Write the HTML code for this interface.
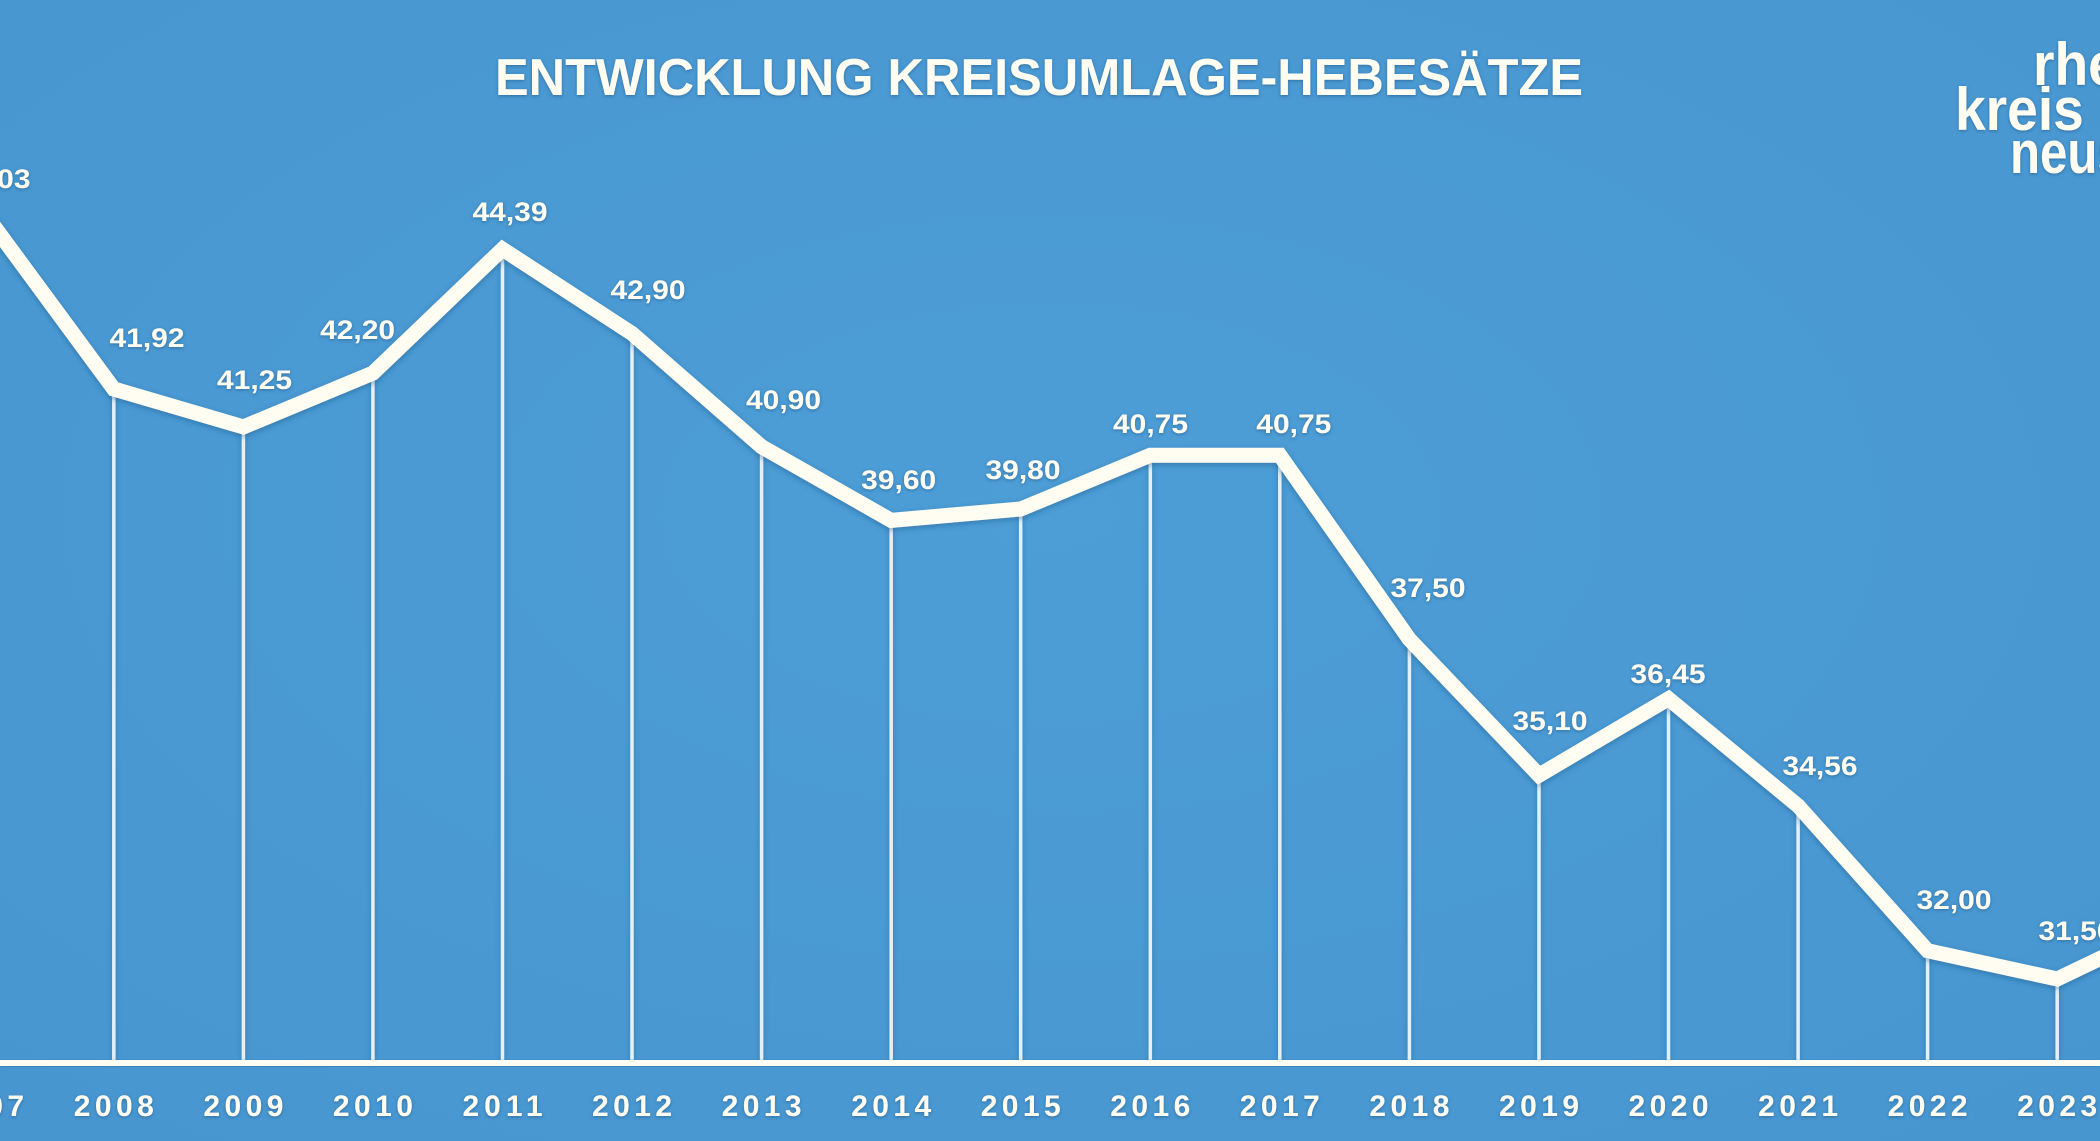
<!DOCTYPE html>
<html>
<head>
<meta charset="utf-8">
<style>
  html,body{margin:0;padding:0;background:#4b9bd4;}
  svg{display:block;}
  text{font-family:"Liberation Sans",sans-serif;font-weight:bold;fill:#fffdf2;}
</style>
</head>
<body>
<svg width="2100" height="1141" viewBox="0 0 2100 1141" xmlns="http://www.w3.org/2000/svg">
  <defs>
    <filter id="sh" x="-10%" y="-10%" width="120%" height="120%">
      <feDropShadow dx="0" dy="2" stdDeviation="3" flood-color="#17507f" flood-opacity="0.45"/>
    </filter>
    <filter id="tsh" x="-10%" y="-30%" width="120%" height="160%">
      <feDropShadow dx="0" dy="1" stdDeviation="1.5" flood-color="#1a4f7c" flood-opacity="0.6"/>
    </filter>
    <radialGradient id="bg" cx="50%" cy="45%" r="75%">
      <stop offset="0%" stop-color="#4d9dd6"/>
      <stop offset="100%" stop-color="#4896d0"/>
    </radialGradient>
  </defs>
  <rect x="0" y="0" width="2100" height="1141" fill="url(#bg)"/>

  <!-- drop lines -->
  <g stroke="#f4f8fb" stroke-width="3.5" stroke-opacity="0.9" filter="url(#sh)">
    <line x1="113.8" y1="392" x2="113.8" y2="1060"/>
    <line x1="243.4" y1="430" x2="243.4" y2="1060"/>
    <line x1="372.9" y1="376" x2="372.9" y2="1060"/>
    <line x1="502.5" y1="252" x2="502.5" y2="1060"/>
    <line x1="632.0" y1="336" x2="632.0" y2="1060"/>
    <line x1="761.6" y1="450" x2="761.6" y2="1060"/>
    <line x1="891.2" y1="523" x2="891.2" y2="1060"/>
    <line x1="1020.7" y1="512" x2="1020.7" y2="1060"/>
    <line x1="1150.3" y1="458" x2="1150.3" y2="1060"/>
    <line x1="1279.8" y1="458" x2="1279.8" y2="1060"/>
    <line x1="1409.4" y1="642" x2="1409.4" y2="1060"/>
    <line x1="1539.0" y1="778" x2="1539.0" y2="1060"/>
    <line x1="1668.5" y1="702" x2="1668.5" y2="1060"/>
    <line x1="1798.1" y1="809" x2="1798.1" y2="1060"/>
    <line x1="1927.6" y1="954" x2="1927.6" y2="1060"/>
    <line x1="2057.2" y1="982" x2="2057.2" y2="1060"/>
  </g>

  <!-- axis -->
  <rect x="0" y="1060" width="2100" height="6" fill="#fffdf2" filter="url(#sh)"/>

  <!-- main line -->
  <polyline filter="url(#sh)" fill="none" stroke="#fffdf2" stroke-width="15" stroke-linejoin="miter" stroke-miterlimit="6"
    points="-15.8,212.9 113.8,389.0 243.4,426.9 372.9,373.1 502.5,249.1 632.0,333.5 761.6,446.7 891.2,520.4 1020.7,509.0 1150.3,455.2 1279.8,455.2 1409.4,639.3 1539.0,775.2 1668.5,698.7 1798.1,805.8 1927.6,950.7 2057.2,979.0 2186.8,916.8"/>

  <!-- title -->
  <text x="1039" y="95" font-size="52" text-anchor="middle" textLength="1088" lengthAdjust="spacingAndGlyphs" filter="url(#tsh)">ENTWICKLUNG KREISUMLAGE-HEBESÄTZE</text>

  <!-- logo -->
  <g filter="url(#tsh)">
    <g transform="translate(2033,85) scale(0.92,1)"><text x="0" y="0" font-size="60">rhein</text></g>
    <g transform="translate(1955,130) scale(0.92,1)"><text x="0" y="0" font-size="60">kreis</text></g>
    <g transform="translate(2010,173) scale(0.82,1)"><text x="0" y="0" font-size="60">neuss</text></g>
  </g>

  <!-- value labels -->
  <g font-size="27" text-anchor="middle" filter="url(#tsh)">
    <text x="-7" y="188" textLength="75" lengthAdjust="spacingAndGlyphs">45,03</text>
    <text x="147" y="347" textLength="75" lengthAdjust="spacingAndGlyphs">41,92</text>
    <text x="254.5" y="389" textLength="75" lengthAdjust="spacingAndGlyphs">41,25</text>
    <text x="357.6" y="339" textLength="75" lengthAdjust="spacingAndGlyphs">42,20</text>
    <text x="510" y="221" textLength="75" lengthAdjust="spacingAndGlyphs">44,39</text>
    <text x="648" y="299" textLength="75" lengthAdjust="spacingAndGlyphs">42,90</text>
    <text x="783.5" y="409" textLength="75" lengthAdjust="spacingAndGlyphs">40,90</text>
    <text x="898.7" y="489" textLength="75" lengthAdjust="spacingAndGlyphs">39,60</text>
    <text x="1023" y="479" textLength="75" lengthAdjust="spacingAndGlyphs">39,80</text>
    <text x="1150.5" y="433" textLength="75" lengthAdjust="spacingAndGlyphs">40,75</text>
    <text x="1293.8" y="433" textLength="75" lengthAdjust="spacingAndGlyphs">40,75</text>
    <text x="1428" y="597" textLength="75" lengthAdjust="spacingAndGlyphs">37,50</text>
    <text x="1550" y="730" textLength="75" lengthAdjust="spacingAndGlyphs">35,10</text>
    <text x="1668" y="683" textLength="75" lengthAdjust="spacingAndGlyphs">36,45</text>
    <text x="1820" y="775" textLength="75" lengthAdjust="spacingAndGlyphs">34,56</text>
    <text x="1954" y="909" textLength="75" lengthAdjust="spacingAndGlyphs">32,00</text>
    <text x="2076" y="940" textLength="75" lengthAdjust="spacingAndGlyphs">31,50</text>
  </g>

  <!-- year labels -->
  <g font-size="30" text-anchor="middle" filter="url(#tsh)">
    <text x="-16" y="1116" textLength="80" lengthAdjust="spacing">2007</text>
    <text x="113.8" y="1116" textLength="80" lengthAdjust="spacing">2008</text>
    <text x="243.4" y="1116" textLength="80" lengthAdjust="spacing">2009</text>
    <text x="372.9" y="1116" textLength="80" lengthAdjust="spacing">2010</text>
    <text x="502.5" y="1116" textLength="80" lengthAdjust="spacing">2011</text>
    <text x="632.0" y="1116" textLength="80" lengthAdjust="spacing">2012</text>
    <text x="761.6" y="1116" textLength="80" lengthAdjust="spacing">2013</text>
    <text x="891.2" y="1116" textLength="80" lengthAdjust="spacing">2014</text>
    <text x="1020.7" y="1116" textLength="80" lengthAdjust="spacing">2015</text>
    <text x="1150.3" y="1116" textLength="80" lengthAdjust="spacing">2016</text>
    <text x="1279.8" y="1116" textLength="80" lengthAdjust="spacing">2017</text>
    <text x="1409.4" y="1116" textLength="80" lengthAdjust="spacing">2018</text>
    <text x="1539.0" y="1116" textLength="80" lengthAdjust="spacing">2019</text>
    <text x="1668.5" y="1116" textLength="80" lengthAdjust="spacing">2020</text>
    <text x="1798.1" y="1116" textLength="80" lengthAdjust="spacing">2021</text>
    <text x="1927.6" y="1116" textLength="80" lengthAdjust="spacing">2022</text>
    <text x="2057.2" y="1116" textLength="80" lengthAdjust="spacing">2023</text>
  </g>
</svg>
</body>
</html>
